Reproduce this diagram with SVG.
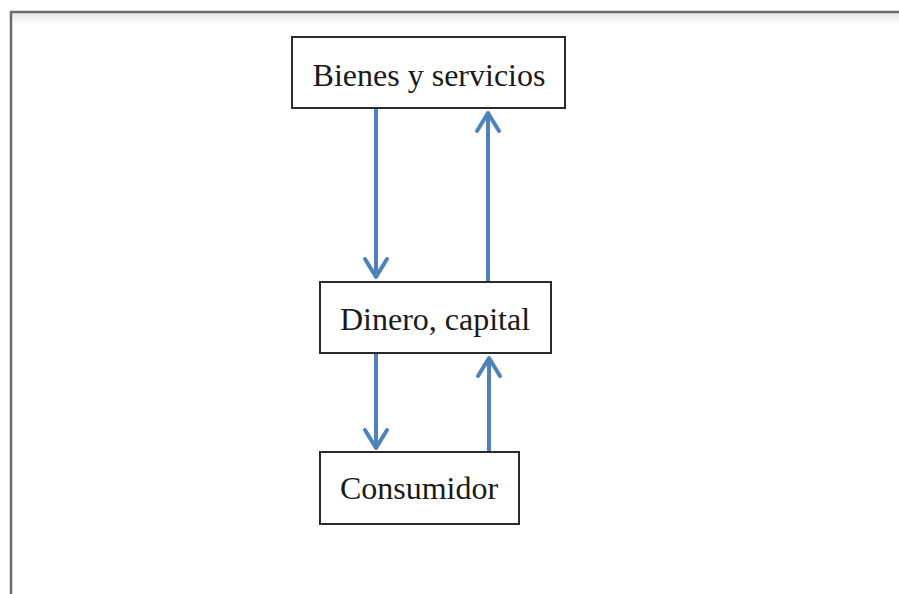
<svg xmlns="http://www.w3.org/2000/svg" width="899" height="594" viewBox="0 0 899 594">
  <style>
    .box { fill: #ffffff; stroke: #2b2b2b; stroke-width: 2; }
    .lbl { font-family: "Liberation Serif", "Times New Roman", serif; font-size: 32px; fill: #1a1a1a; text-anchor: middle; }
    .conn { stroke: #4F81BD; stroke-width: 4; fill: none; }
    .frame { stroke: #6a6a6a; stroke-width: 2.5; fill: none; }
  </style>
  <defs>
    <linearGradient id="shadow" x1="0" y1="0" x2="0" y2="1">
      <stop offset="0" stop-color="#e6e6e6"/>
      <stop offset="1" stop-color="#ffffff"/>
    </linearGradient>
    <marker id="arrow" markerUnits="userSpaceOnUse" viewBox="-24 -15 28 30" refX="0" refY="0" markerWidth="28" markerHeight="30" orient="auto">
      <path d="M-18,-11 L0,0 L-18,11" fill="none" stroke="#4F81BD" stroke-width="4" stroke-linecap="round" stroke-linejoin="round"/>
    </marker>
  </defs>
  <rect x="0" y="0" width="899" height="594" fill="#ffffff"/>
  <g id="frame">
    <rect x="12" y="13" width="887" height="12" fill="url(#shadow)"/>
    <path class="frame" d="M11,594 L11,12 L899,12"/>
  </g>
  <g id="connectors">
    <line class="conn" x1="376" y1="109" x2="376" y2="277" marker-end="url(#arrow)"/>
    <line class="conn" x1="488" y1="281" x2="488" y2="113" marker-end="url(#arrow)"/>
    <line class="conn" x1="376" y1="354" x2="376" y2="448" marker-end="url(#arrow)"/>
    <line class="conn" x1="489" y1="451" x2="489" y2="358" marker-end="url(#arrow)"/>
  </g>
  <g id="bienes">
    <rect class="box" x="292" y="37" width="273" height="71"/>
    <text class="lbl" x="429" y="86">Bienes y servicios</text>
  </g>
  <g id="dinero">
    <rect class="box" x="320" y="282" width="231" height="71"/>
    <text class="lbl" x="435" y="330">Dinero, capital</text>
  </g>
  <g id="consumidor">
    <rect class="box" x="320" y="452" width="199" height="72"/>
    <text class="lbl" x="419" y="499">Consumidor</text>
  </g>
</svg>
